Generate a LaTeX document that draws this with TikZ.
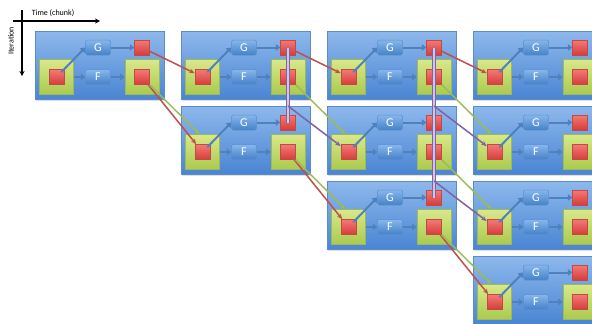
\documentclass[tikz,border=0pt]{standalone}
\usepackage{fontspec}
\setmainfont{Carlito}
\usetikzlibrary{arrows.meta,shadows,calc}
\definecolor{blkTop}{HTML}{8EB8EC}
\definecolor{blkBot}{HTML}{4A85D3}
\definecolor{blkEdge}{HTML}{5A8CCB}
\definecolor{grnTop}{HTML}{D8E88A}
\definecolor{grnBot}{HTML}{AACA4E}
\definecolor{grnEdge}{HTML}{9DB95A}
\definecolor{redTop}{HTML}{F27A76}
\definecolor{redBot}{HTML}{D63C3A}
\definecolor{redEdge}{HTML}{C24A46}
\definecolor{gfTop}{HTML}{86B6EC}
\definecolor{gfBot}{HTML}{4581C8}
\definecolor{gfEdge}{HTML}{5B8FD0}
\definecolor{inArr}{HTML}{4F81BD}
\definecolor{lnRed}{HTML}{C0504D}
\definecolor{lnGreen}{HTML}{9BBB59}
\definecolor{lnPurple}{HTML}{8064A2}
\definecolor{lnPurpleLight}{HTML}{D2C4E4}
\begin{document}
\begin{tikzpicture}[x=1pt,y=-1pt,
  blockbox/.style={anchor=north west, minimum width=129pt, minimum height=68pt, inner sep=0pt,
    draw=blkEdge, line width=0.6pt, top color=blkTop, bottom color=blkBot,
    drop shadow={shadow xshift=1pt, shadow yshift=-1.5pt, opacity=0.25}},
  greensq/.style={minimum width=34pt, minimum height=35pt, inner sep=0pt,
    draw=grnEdge, line width=0.6pt, top color=grnTop, bottom color=grnBot},
  redsq/.style={minimum width=15pt, minimum height=15pt, inner sep=0pt,
    draw=redEdge, line width=0.5pt, top color=redTop, bottom color=redBot},
  gfbox/.style={minimum width=25pt, minimum height=15pt, inner sep=0pt, rounded corners=1.5pt,
    draw=gfEdge, line width=0.5pt, top color=gfTop, bottom color=gfBot,
    text=white, font=\fontsize{12}{12}\selectfont},
  inarrow/.style={draw=inArr, line width=2pt, -{Triangle[length=4.5pt,width=6.5pt]}},
  redline/.style={draw=lnRed, line width=1.5pt, -{Stealth[length=5.5pt,width=4.5pt]}},
  greenline/.style={draw=lnGreen, line width=1.5pt, -{Stealth[length=5.5pt,width=4.5pt]}},
  purpleline/.style={draw=lnPurple, line width=1.5pt, -{Stealth[length=5.5pt,width=4.5pt]}},
  purpledouble/.style={draw=lnPurple, line width=0.9pt, double=lnPurpleLight, double distance=1.8pt},
  axisarrow/.style={draw=black, line width=1.1pt, -{Stealth[length=5pt,width=5pt]}},
  axislabel/.style={font=\fontsize{8}{9}\selectfont, inner sep=0pt}
]
\useasboundingbox (0,0) rectangle (592,324);
\clip (0,0) rectangle (592,324);
\fill[white] (0,0) rectangle (592,324);

% axes
\coordinate (ax0) at (13,21);
\coordinate (ax1) at (100,21);
\coordinate (ay0) at (22,10);
\coordinate (ay1) at (22,76);
\draw[axisarrow] (ax0) -- (ax1);
\draw[axisarrow] (ay0) -- (ay1);
\node[axislabel] (tlabel) at (53,13) {Time (chunk)};
\node[axislabel, rotate=90] (ilabel) at (11,41) {Iteration};

% blocks
\foreach \c in {0,...,3}{
  \foreach \r in {0,...,\c}{
    \pgfmathsetmacro\X{35+146*\c}
    \pgfmathsetmacro\Y{31+75*\r}
    \node[blockbox] (B\c\r) at (\X,\Y) {};
    \node[greensq] (L\c\r) at (\X+21.5,\Y+46) {};
    \node[redsq] (l\c\r) at (L\c\r) {};
    \node[gfbox] (G\c\r) at (\X+63,\Y+16.5) {G};
    \node[gfbox] (F\c\r) at (\X+63,\Y+46) {F};
    \node[redsq] (T\c\r) at (\X+107,\Y+16.5) {};
    \node[greensq] (R\c\r) at (\X+107,\Y+46) {};
    \node[redsq] (r\c\r) at (R\c\r) {};
    \draw[inarrow] ([xshift=-3pt,yshift=-3pt]l\c\r.north east) -- (G\c\r.west);
    \draw[inarrow] (L\c\r.east) -- (F\c\r.west);
    \draw[inarrow] (G\c\r.east) -- (T\c\r.west);
    \draw[inarrow] (F\c\r.east) -- (R\c\r.west);
  }
}

% purple vertical transfers
\foreach \c/\n in {1/2,2/3}{
  \draw[purpledouble] (T\c0.center) -- (T\c\c.center);
  \foreach \r in {1,...,\c}{
    \coordinate (P\c\r) at (T\c0 |- B\c\r.north);
    \draw[purpleline] (P\c\r) -- (l\n\r);
  }
}

% row 0 red transfers
\foreach \c/\n in {0/1,1/2,2/3}{
  \draw[redline] (T\c0) -- (l\n0);
}

% diagonal red transfers
\foreach \c/\n in {0/1,1/2,2/3}{
  \draw[redline] (r\c\c) -- (l\n\n);
}

% green transfers
\foreach \c/\n in {0/1,1/2,2/3}{
  \foreach \r in {0,...,\c}{
    \pgfmathtruncatemacro\m{\r+1}
    \draw[greenline] (r\c\r) -- ([xshift=-3pt]L\n\m.north);
  }
}
\end{tikzpicture}
\end{document}
